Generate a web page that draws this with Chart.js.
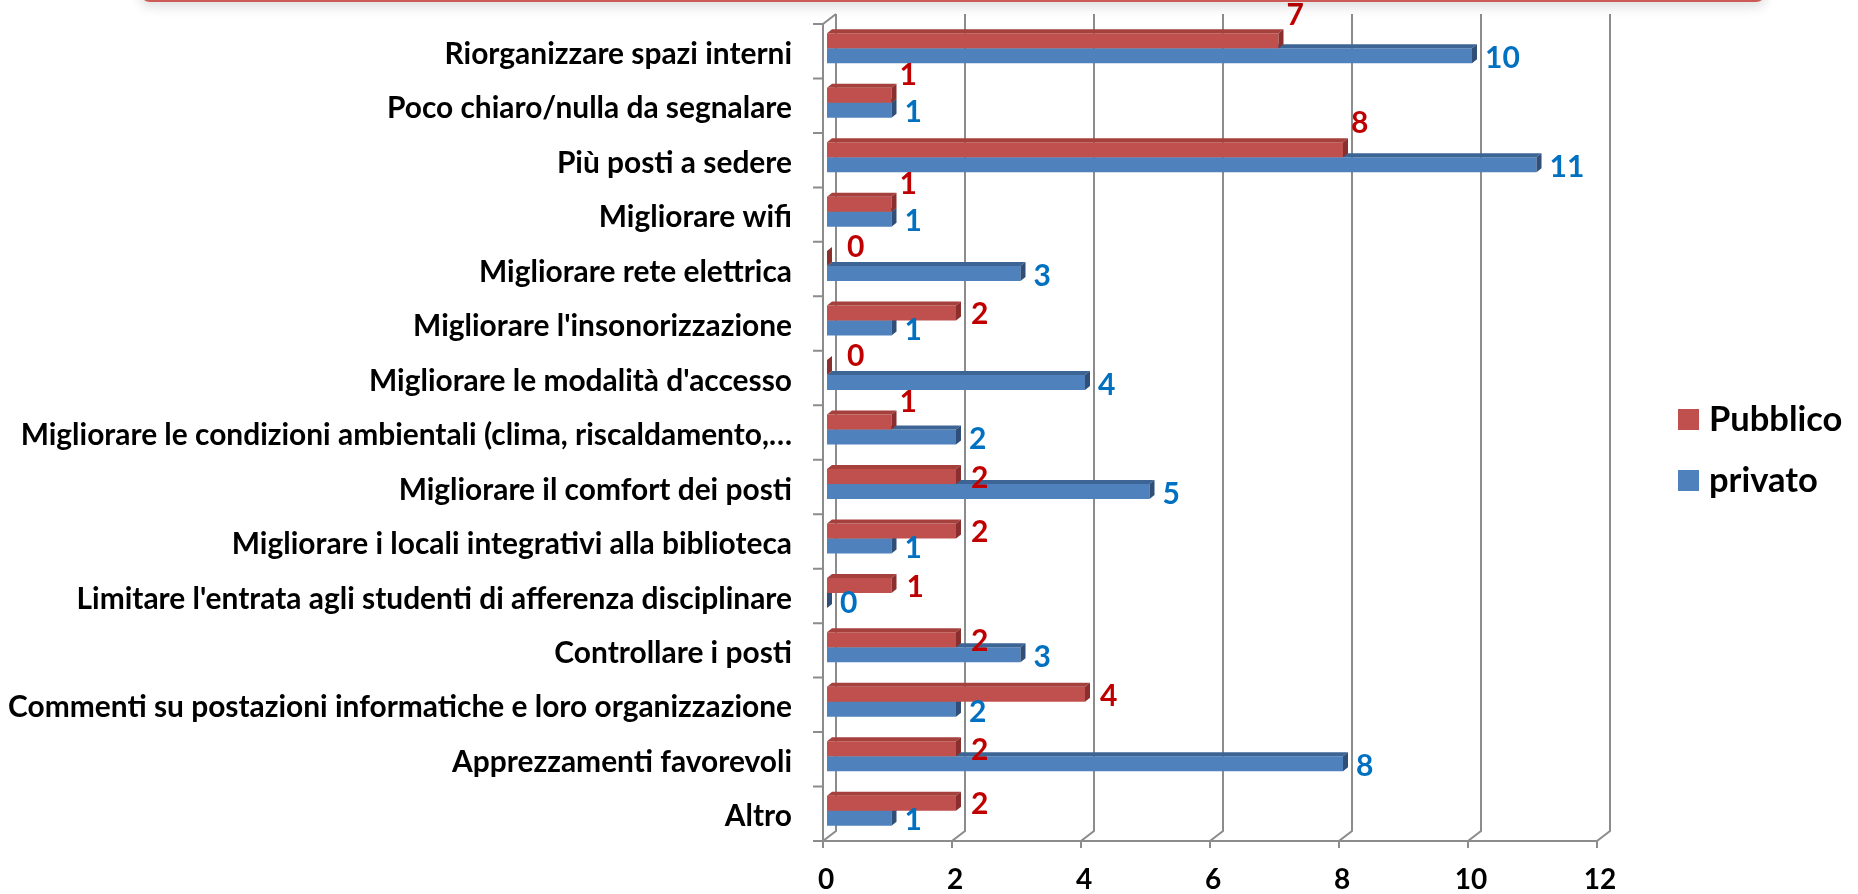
<!DOCTYPE html>
<html lang="it">
<head>
<meta charset="utf-8">
<title>Suggerimenti sugli spazi</title>
<script src="https://cdn.jsdelivr.net/npm/chart.js@4.4.1/dist/chart.umd.min.js"></script>
<style>
  html, body { margin: 0; padding: 0; background: #fff; overflow: hidden; }
  #wrap { position: relative; width: 1858px; height: 894px; }
  #chart { position: absolute; left: 0; top: 0; }
  /* bottom edge of the slide's title box */
  .banner {
    position: absolute; left: 140px; top: -58px; width: 1626px; height: 60px;
    box-sizing: border-box; border: 2px solid #cc5b58; border-radius: 10px;
    background: #fff; box-shadow: 0 5px 12px rgba(0, 0, 0, 0.13);
  }
</style>
</head>
<body>
<div id="wrap">
  <canvas id="chart" width="1858" height="894"></canvas>
  <div class="banner"></div>
</div>
<script>
// categories, top to bottom
const categories = [
  "Riorganizzare spazi interni",
  "Poco chiaro/nulla da segnalare",
  "Più posti a sedere",
  "Migliorare wifi",
  "Migliorare rete elettrica",
  "Migliorare l'insonorizzazione",
  "Migliorare le modalità d'accesso",
  "Migliorare le condizioni ambientali (clima, riscaldamento,…",
  "Migliorare il comfort dei posti",
  "Migliorare i locali integrativi alla biblioteca",
  "Limitare l'entrata agli studenti di afferenza disciplinare",
  "Controllare i posti",
  "Commenti su postazioni informatiche e loro organizzazione",
  "Apprezzamenti favorevoli",
  "Altro"
];
const pubblico = [7, 1, 8, 1, 0, 2, 0, 1, 2, 2, 1, 2, 4, 2, 2];
const privato = [10, 1, 11, 1, 3, 1, 4, 2, 5, 1, 0, 3, 2, 8, 1];
const xTicks = [0, 2, 4, 6, 8, 10, 12];

const FONT = "Lato, 'Open Sans', sans-serif";
const DEPTH = { dx: 5, dy: 4 };          // 3d depth of the bars
const BACK = { dx: 9, dy: -7 };          // back wall offset from the bar plane
const FRONT = { dx: -4, dy: 3 };         // front edge offset from the bar plane
const GRID = "#8c8c8c";

// back wall grid, floor and left wall of the 3d box
const walls = {
  id: "walls",
  beforeDatasetsDraw(chart) {
    const { ctx, chartArea: a, scales: { x } } = chart;
    const x0 = x.getPixelForValue(xTicks[0]);
    const xN = x.getPixelForValue(xTicks[xTicks.length - 1]);
    ctx.save();
    ctx.strokeStyle = GRID;
    ctx.lineWidth = 2;
    x.ticks.forEach(t => {
      const px = x.getPixelForValue(t.value);
      ctx.beginPath();
      ctx.moveTo(px + BACK.dx, a.top + BACK.dy);
      ctx.lineTo(px + BACK.dx, a.bottom + BACK.dy);
      ctx.lineTo(px + FRONT.dx, a.bottom + FRONT.dy);
      ctx.lineTo(px + FRONT.dx, a.bottom + FRONT.dy + 7);
      ctx.stroke();
    });
    ctx.beginPath();
    ctx.moveTo(x0 + FRONT.dx, a.bottom + FRONT.dy);
    ctx.lineTo(xN + FRONT.dx, a.bottom + FRONT.dy);
    // left wall
    ctx.moveTo(x0 + BACK.dx, a.top + BACK.dy);
    ctx.lineTo(x0 + FRONT.dx, a.top + FRONT.dy);
    ctx.lineTo(x0 + FRONT.dx, a.bottom + FRONT.dy);
    const n = categories.length;
    for (let k = 0; k <= n; k++) {
      const yk = a.top + k * (a.height / n) + FRONT.dy;
      ctx.moveTo(x0 + FRONT.dx - 10, yk);
      ctx.lineTo(x0 + FRONT.dx, yk);
    }
    ctx.stroke();
    ctx.restore();
  }
};

// top and end faces of each bar
const bar3d = {
  id: "bar3d",
  afterDatasetDraw(chart, args) {
    const ds = chart.data.datasets[args.index];
    const ctx = chart.ctx;
    ctx.save();
    args.meta.data.forEach(bar => {
      const { x, y, base, height } = bar.getProps(["x", "y", "base", "height"], true);
      const top = y - height / 2, bottom = y + height / 2;
      ctx.fillStyle = ds.topColor;
      ctx.beginPath();
      ctx.moveTo(base, top);
      ctx.lineTo(x, top);
      ctx.lineTo(x + DEPTH.dx, top - DEPTH.dy);
      ctx.lineTo(base + DEPTH.dx, top - DEPTH.dy);
      ctx.closePath();
      ctx.fill();
      ctx.fillStyle = ds.sideColor;
      ctx.beginPath();
      ctx.moveTo(x, top);
      ctx.lineTo(x + DEPTH.dx, top - DEPTH.dy);
      ctx.lineTo(x + DEPTH.dx, bottom - DEPTH.dy);
      ctx.lineTo(x, bottom);
      ctx.closePath();
      ctx.fill();
    });
    ctx.restore();
  }
};

// value labels at the end of the bars
const valueLabels = {
  id: "valueLabels",
  afterDatasetsDraw(chart) {
    const ctx = chart.ctx;
    ctx.save();
    ctx.font = "bold 30px " + FONT;
    ctx.textAlign = "left";
    ctx.textBaseline = "middle";
    chart.getDatasetMeta(0).data.forEach((bar, i) => {
      const v = pubblico[i];
      const { x, y, height } = bar.getProps(["x", "y", "height"], true);
      let lx = x + 15, ly = y + 1.5;
      // move the label above the bar when the privato bar would run into it
      if (privato[i] >= v && v !== 2) {
        lx = x + (v === 0 ? 20 : 8);
        ly = y - height / 2 - (v === 0 ? 4 : 11 + v);
      }
      ctx.fillStyle = chart.data.datasets[0].labelColor;
      ctx.fillText(String(v), lx, ly);
    });
    chart.getDatasetMeta(1).data.forEach((bar, i) => {
      const { x, y } = bar.getProps(["x", "y"], true);
      ctx.fillStyle = chart.data.datasets[1].labelColor;
      ctx.fillText(String(privato[i]), x + 13, y + 2.5);
    });
    ctx.restore();
  }
};

// legend to the right of the plot
const sideLegend = {
  id: "sideLegend",
  afterDraw(chart) {
    const { ctx, chartArea: a } = chart;
    const lx = a.right + 77;
    const cy = chart.height / 2 + 3;
    ctx.save();
    ctx.font = "bold 34.5px " + FONT;
    ctx.textAlign = "left";
    ctx.textBaseline = "middle";
    chart.data.datasets.forEach((ds, i) => {
      const yy = cy + (i - 0.5) * 61;
      ctx.fillStyle = ds.backgroundColor;
      ctx.fillRect(lx, yy - 10.5, 21, 21);
      ctx.fillStyle = "#000";
      ctx.fillText(ds.label, lx + 31, yy);
    });
    ctx.restore();
  }
};

const ctx = document.getElementById("chart").getContext("2d");
new Chart(ctx, {
  type: "bar",
  data: {
    labels: categories,
    datasets: [
      {
        label: "Pubblico",
        data: pubblico,
        backgroundColor: "#c0504d",
        topColor: "#a5403d",
        sideColor: "#8a2f2d",
        labelColor: "#c00000",
        categoryPercentage: 0.551,
        barPercentage: 1
      },
      {
        label: "privato",
        data: privato,
        backgroundColor: "#4f81bd",
        topColor: "#3c6494",
        sideColor: "#2f4f78",
        labelColor: "#0070c0",
        categoryPercentage: 0.551,
        barPercentage: 1
      }
    ]
  },
  options: {
    indexAxis: "y",
    responsive: false,
    animation: false,
    layout: { padding: { top: 21, right: 257, left: 0, bottom: 0 } },
    scales: {
      x: {
        min: 0,
        max: 12,
        afterBuildTicks: scale => {
          scale.ticks = xTicks.map(v => ({ value: v }));
        },
        afterFit: scale => {
          scale.height = 56;
          scale.paddingLeft = 0;
          scale.paddingRight = 0;
        },
        grid: { display: false, drawTicks: false },
        border: { display: false },
        ticks: {
          font: { family: FONT, size: 28, weight: "bold" },
          color: "#000",
          padding: 25,
          labelOffset: -1
        }
      },
      y: {
        afterFit: scale => {
          scale.width = 827;
          scale.paddingTop = 0;
          scale.paddingBottom = 0;
        },
        grid: { display: false, drawTicks: false },
        border: { display: false },
        ticks: {
          font: { family: FONT, size: 29.9, weight: "bold" },
          color: "#000",
          padding: 35,
          labelOffset: 6,
          autoSkip: false
        }
      }
    },
    plugins: {
      legend: { display: false },
      tooltip: { enabled: false }
    }
  },
  plugins: [walls, bar3d, valueLabels, sideLegend]
});
</script>
</body>
</html>
